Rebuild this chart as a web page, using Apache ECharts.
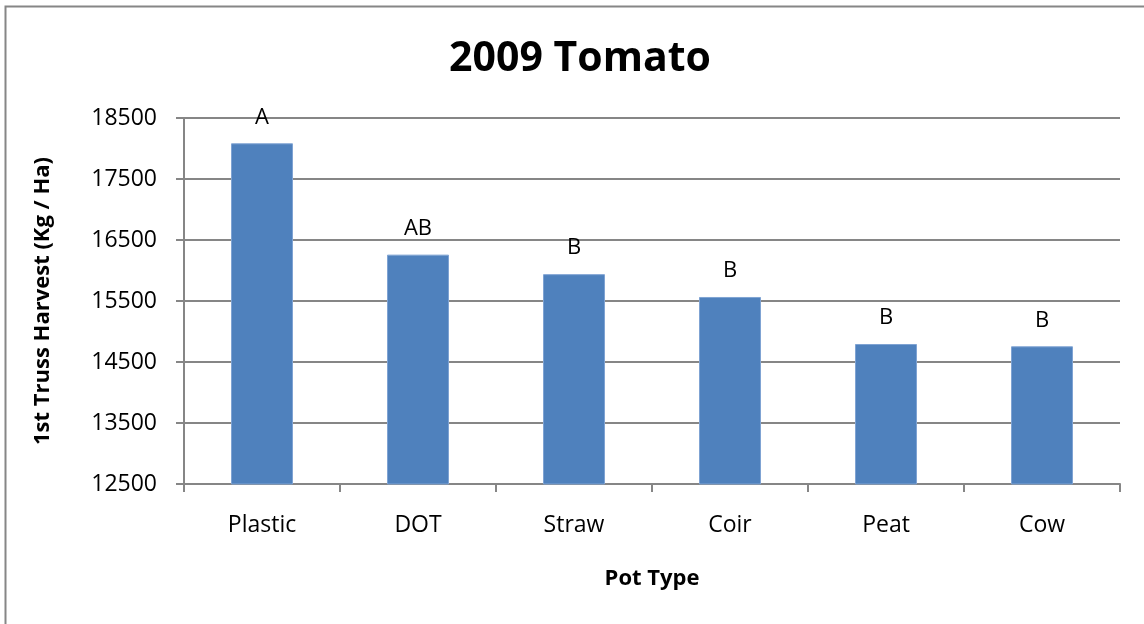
<!DOCTYPE html>
<html>
<head>
<meta charset="utf-8">
<style>
  html, body { margin: 0; padding: 0; background: #fff; }
  #chart { width: 1144px; height: 624px; }
</style>
<script src="https://cdn.jsdelivr.net/npm/echarts@6/dist/echarts.min.js"></script>
</head>
<body>
<div id="chart"></div>
<script>
// Pot types along the x axis
const categories = ['Plastic', 'DOT', 'Straw', 'Coir', 'Peat', 'Cow'];
// First-truss harvest, kg per hectare
const harvest = [18085, 16260, 15940, 15566, 14795, 14757];
// Significance groups shown above each bar
const groups = ['A', 'AB', 'B', 'B', 'B', 'B'];
// Value-axis range
const yMin = 12500, yMax = 18500, yStep = 1000;

const font = '"Open Sans", "Noto Sans", sans-serif';
const gray = '#868686';

const chart = echarts.init(document.getElementById('chart'), null, { renderer: 'canvas' });
chart.setOption({
  backgroundColor: '#fff',
  animation: false,
  title: {
    text: '2009 Tomato',
    left: 575, top: 34,
    textAlign: 'center',
    textStyle: { fontFamily: font, fontSize: 41, fontWeight: 'bold', color: '#000' }
  },
  graphic: [{
    type: 'rect',
    shape: { x: 5.5, y: 6.5, width: 1160, height: 640 },
    style: { fill: 'none', stroke: gray, lineWidth: 2 },
    silent: true, z: -1
  }],
  grid: { left: 184, right: 24, top: 118, bottom: 140 },
  xAxis: {
    type: 'category',
    data: categories,
    name: 'Pot Type',
    nameLocation: 'middle',
    nameGap: 84,
    nameTextStyle: { fontFamily: font, fontSize: 22, fontWeight: 'bold', color: '#000' },
    axisLine: { lineStyle: { color: gray, width: 2 } },
    axisTick: { show: true, length: 8, lineStyle: { color: gray, width: 2 } },
    axisLabel: { fontFamily: font, fontSize: 23, color: '#000', margin: 30 },
    splitLine: { show: false }
  },
  yAxis: {
    type: 'value',
    min: yMin, max: yMax, interval: yStep,
    name: '1st Truss Harvest (Kg / Ha)',
    nameLocation: 'middle',
    nameGap: 130,
    nameRotate: 90,
    nameTextStyle: { fontFamily: font, fontSize: 22, fontWeight: 'bold', color: '#000' },
    axisLine: { show: true, lineStyle: { color: gray, width: 2 } },
    axisTick: { show: true, length: 8, lineStyle: { color: gray, width: 2 } },
    axisLabel: {
      fontFamily: font, fontSize: 23, color: '#000', margin: 27,
      formatter: v => String(v)
    },
    splitLine: { show: true, lineStyle: { color: gray, width: 2 } }
  },
  series: [{
    type: 'bar',
    data: harvest,
    barWidth: 62,
    itemStyle: { color: '#4F81BD', borderColor: '#7FA3D3', borderWidth: 1 },
    label: {
      show: true,
      position: 'top',
      distance: 15,
      fontFamily: font,
      fontSize: 22,
      color: '#000',
      formatter: p => groups[p.dataIndex]
    }
  }]
});
</script>
</body>
</html>
